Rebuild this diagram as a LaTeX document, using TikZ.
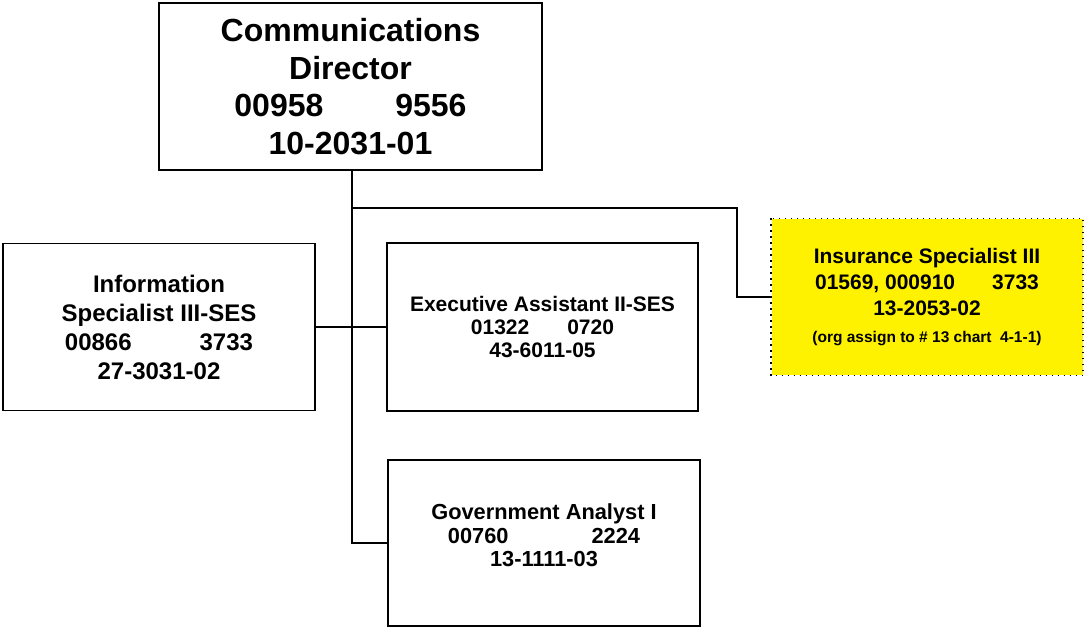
\documentclass[tikz,border=0pt]{standalone}
\usepackage{fontspec}
\setmainfont{Liberation Sans}
\begin{document}
\begin{tikzpicture}[x=1pt,y=-1pt,
  post/.style={draw=black,line width=1.3pt,fill=white,inner sep=0pt,align=center,font=\bfseries},
  link/.style={draw=black,line width=1.3pt}]
\useasboundingbox (0,0) rectangle (1084,627);
% director
\node[post,minimum width=383pt,minimum height=167pt,font=\bfseries\fontsize{32}{37.5}\selectfont]
  (dir) at (350.5,86.5) {Communications\\Director\\00958\hspace{72pt}9556\\10-2031-01};
% staff positions
\node[post,minimum width=312pt,minimum height=167pt,font=\bfseries\fontsize{24}{29}\selectfont]
  (info) at (159,327) {Information\\Specialist III-SES\\00866\hspace{68pt}3733\\27-3031-02};
\node[post,minimum width=311pt,minimum height=168pt,font=\bfseries\fontsize{21}{23}\selectfont]
  (exec) at (542.5,327) {Executive Assistant II-SES\\01322\hspace{38pt}0720\\43-6011-05};
\node[post,minimum width=312pt,minimum height=166pt,font=\bfseries\fontsize{21.8}{23.5}\selectfont]
  (gov) at (544,543) {Government Analyst I\\00760\hspace{83pt}2224\\13-1111-03\\[-8pt]};
\node[post,draw=none,fill=yellow,minimum width=311pt,minimum height=156pt,font=\bfseries\fontsize{21}{26}\selectfont]
  (ins) at (927,297) {Insurance Specialist III\\01569, 000910\hspace{37pt}3733\\13-2053-02\\[1pt]{\fontsize{15.5}{18}\selectfont(org assign to \# 13 chart\ \ 4-1-1)}};
\draw[line width=1.4pt,dash pattern=on 1.4pt off 4.6pt] (ins.north west) rectangle (ins.south east);
% connectors
\coordinate (trunk) at (352,170);
\coordinate (tee) at (352,208);
\coordinate (elbow) at (737,208);
\coordinate (foot) at (352,543);
\draw[link] (trunk) -- (foot) -- (gov.west);
\draw[link] (info.east) -- (exec.west);
\draw[link] (tee) -- (elbow) |- (ins.west);
\end{tikzpicture}
\end{document}
